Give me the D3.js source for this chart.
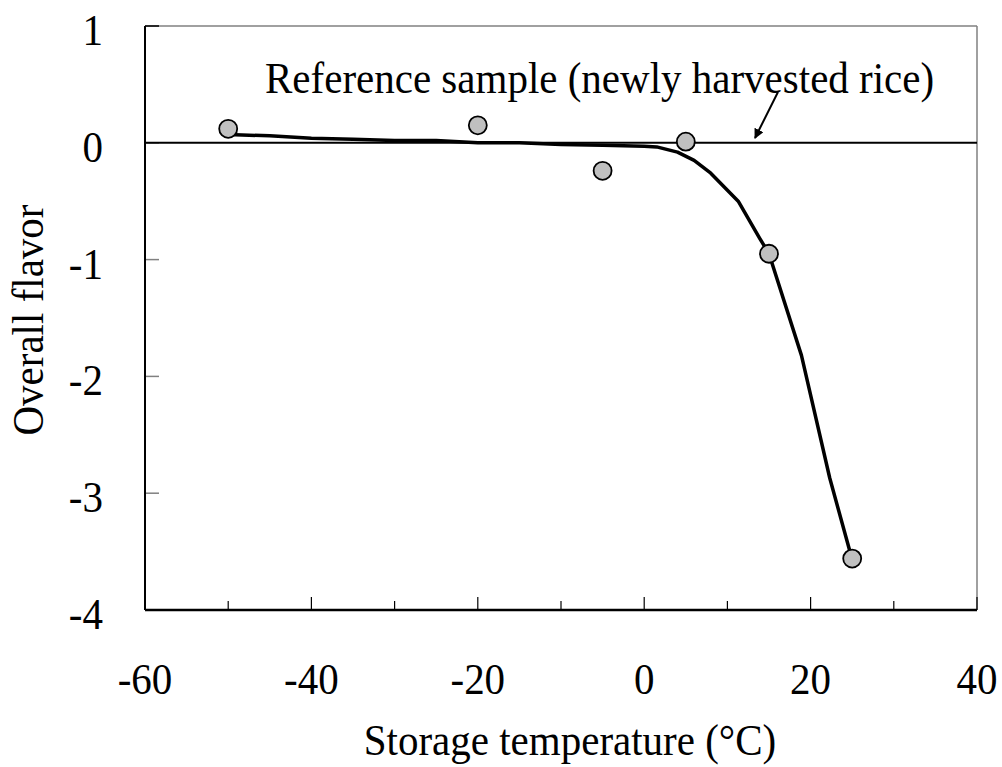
<!DOCTYPE html>
<html>
<head>
<meta charset="utf-8">
<script src="https://cdn.jsdelivr.net/npm/d3@7"></script>
<style>
  body { margin: 0; background: #fff; }
</style>
</head>
<body>
<svg id="chart" width="1002" height="767" font-family="'Liberation Serif', 'DejaVu Serif', serif"></svg>
<script>
// observed points
const temps = [-50, -20, -5, 5, 15, 25];
const flavor = [0.12, 0.15, -0.24, 0.01, -0.95, -3.56];

// fitted curve
const fitTemps = [-50, -45, -40, -35, -30, -25, -20, -15, -10, -5, 0, 1.5, 4, 6, 8, 11.3, 13.9, 15, 18.9, 22.3, 25];
const fitFlavor = [0.07, 0.06, 0.04, 0.03, 0.02, 0.02, 0.0, 0.0, -0.015, -0.02, -0.03, -0.035, -0.08, -0.15, -0.26, -0.50, -0.82, -0.95, -1.82, -2.87, -3.57];

const xTicks = [-60, -40, -20, 0, 20, 40];
const xMinor = [-50, -30, -10, 10, 30];
const yTicks = [1, 0, -1, -2, -3, -4];

const svg = d3.select('#chart');
const pLeft = 145, pRight = 977, pTop = 26, pBottom = 610;
const fontStyle = "font-family:'Liberation Serif','DejaVu Serif',serif";
const fs = 41, stretch = 1.09;

const x = d3.scaleLinear().domain([-60, 40]).range([pLeft, pRight]);
const y = d3.scaleLinear().domain([-4, 1]).range([pBottom, pTop]);

// text with the slight vertical stretch seen in the picture
function label(g, tx, ty, str, anchor, rot) {
  return g.append('text')
    .attr('style', fontStyle)
    .attr('transform', `translate(${tx},${ty})${rot ? ' rotate(' + rot + ')' : ''} scale(1,${stretch})`)
    .attr('text-anchor', anchor).attr('font-size', fs)
    .text(str);
}

// frame: top and right in grey
svg.append('line').attr('x1', pLeft).attr('x2', pRight).attr('y1', pTop).attr('y2', pTop)
  .attr('stroke', '#808080').attr('stroke-width', 1.5);
svg.append('line').attr('x1', pRight).attr('x2', pRight).attr('y1', pTop).attr('y2', pBottom)
  .attr('stroke', '#808080').attr('stroke-width', 1.5);

// y ticks (inward, grey)
svg.selectAll('.ytick').data(yTicks).join('line')
  .attr('x1', pLeft).attr('x2', pLeft + 14)
  .attr('y1', d => y(d)).attr('y2', d => y(d))
  .attr('stroke', d => d === 1 ? '#000' : '#808080').attr('stroke-width', 1.5);

// x ticks (inward)
svg.selectAll('.xmajor').data(xTicks).join('line')
  .attr('x1', d => x(d)).attr('x2', d => x(d))
  .attr('y1', pBottom).attr('y2', pBottom - 13)
  .attr('stroke', '#000').attr('stroke-width', 1.2);
svg.selectAll('.xminor').data(xMinor).join('line')
  .attr('x1', d => x(d)).attr('x2', d => x(d))
  .attr('y1', pBottom).attr('y2', pBottom - 9)
  .attr('stroke', '#000').attr('stroke-width', 1.2);

// reference line at 0
svg.append('line').attr('x1', pLeft).attr('x2', pRight).attr('y1', y(0)).attr('y2', y(0))
  .attr('stroke', '#000').attr('stroke-width', 2);

// left and bottom axes
svg.append('line').attr('x1', pLeft).attr('x2', pLeft).attr('y1', pTop).attr('y2', pBottom)
  .attr('stroke', '#000').attr('stroke-width', 2);
svg.append('line').attr('x1', pLeft).attr('x2', pRight).attr('y1', pBottom).attr('y2', pBottom)
  .attr('stroke', '#000').attr('stroke-width', 2.5);

// tick labels
yTicks.forEach(d => label(svg, 103, y(d) + 19, d, 'end'));
xTicks.forEach(d => label(svg, x(d), 694, d, 'middle'));

// axis titles
label(svg, 570, 755, 'Storage temperature (°C)', 'middle');
label(svg, 43, 320, 'Overall flavor', 'middle', -90);

// fitted curve
const line = d3.line().x(d => x(d[0])).y(d => y(d[1]));
svg.append('path')
  .datum(d3.zip(fitTemps, fitFlavor))
  .attr('d', line)
  .attr('fill', 'none').attr('stroke', '#000').attr('stroke-width', 3.5)
  .attr('stroke-linejoin', 'round');

// points
svg.selectAll('.pt').data(d3.zip(temps, flavor)).join('circle')
  .attr('cx', d => x(d[0])).attr('cy', d => y(d[1])).attr('r', 9)
  .attr('fill', '#c0c0c0').attr('stroke', '#000').attr('stroke-width', 1.8);

// annotation
label(svg, 265, 93, 'Reference sample (newly harvested rice)', 'start');

svg.append('defs').append('marker')
  .attr('id', 'arrow').attr('viewBox', '0 0 10 10').attr('refX', 9).attr('refY', 5)
  .attr('markerWidth', 5).attr('markerHeight', 5).attr('orient', 'auto')
  .append('path').attr('d', 'M0,0 L10,5 L0,10 Z').attr('fill', '#000');
svg.append('line').attr('x1', 778).attr('y1', 92).attr('x2', 755).attr('y2', 138)
  .attr('stroke', '#000').attr('stroke-width', 2).attr('marker-end', 'url(#arrow)');
</script>
</body>
</html>
